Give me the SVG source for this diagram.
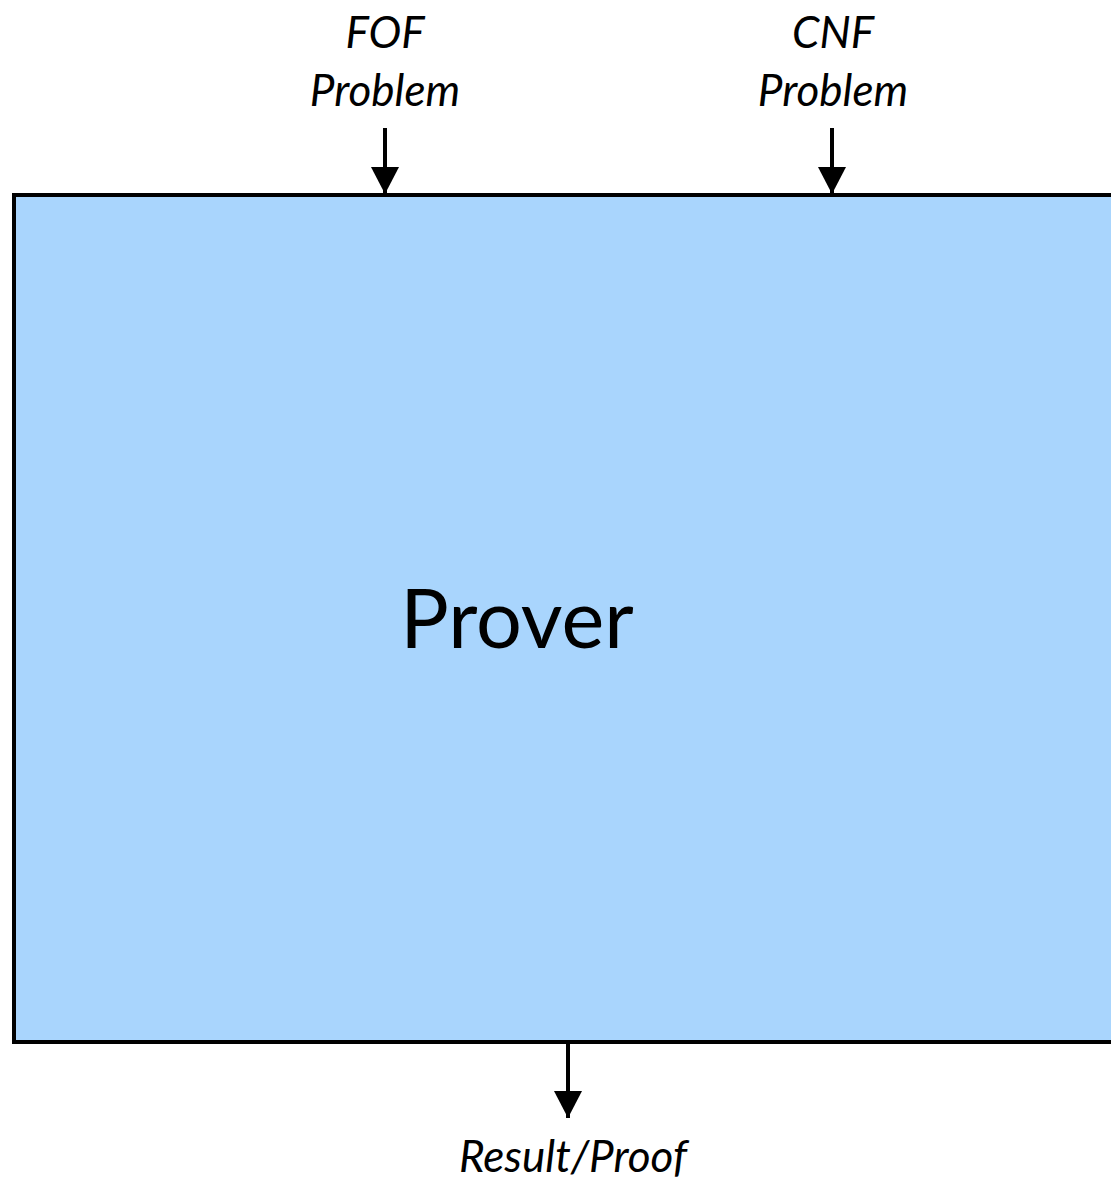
<svg xmlns="http://www.w3.org/2000/svg" width="1111" height="1182" viewBox="0 0 1111 1182">
  <style>
    .label { font-family: Lato, "Open Sans", "Liberation Sans", sans-serif; font-style: italic; font-size: 44px; fill: #000; text-anchor: middle; }
    .title { font-family: Lato, "Open Sans", "Liberation Sans", sans-serif; font-size: 81px; fill: #000; }
    .edge { stroke: #000; stroke-width: 4; fill: none; }
  </style>
  <defs>
    <marker id="arrow" markerUnits="userSpaceOnUse" markerWidth="30" markerHeight="28" refX="27" refY="14" orient="auto">
      <path d="M0,0 L27,14 L0,28 Z" fill="#000"/>
    </marker>
  </defs>
  <rect width="1111" height="1182" fill="#fff"/>

  <g id="prover">
    <rect x="14" y="195" width="1110" height="847" fill="#A9D5FD" stroke="#000" stroke-width="4"/>
    <text class="title" x="517" y="648" text-anchor="middle">Prover</text>
  </g>

  <g id="fof-input">
    <text class="label" x="385" y="48">FOF</text>
    <text class="label" x="385" y="106">Problem</text>
  </g>

  <g id="cnf-input">
    <text class="label" x="833" y="48">CNF</text>
    <text class="label" x="833" y="106">Problem</text>
  </g>

  <g id="result-output">
    <text class="label" x="573" y="1172">Result/Proof</text>
  </g>

  <g id="connectors">
    <line class="edge" x1="385" y1="128" x2="385" y2="194" marker-end="url(#arrow)"/>
    <line class="edge" x1="832" y1="128" x2="832" y2="194" marker-end="url(#arrow)"/>
    <line class="edge" x1="568" y1="1043" x2="568" y2="1118" marker-end="url(#arrow)"/>
  </g>
</svg>
